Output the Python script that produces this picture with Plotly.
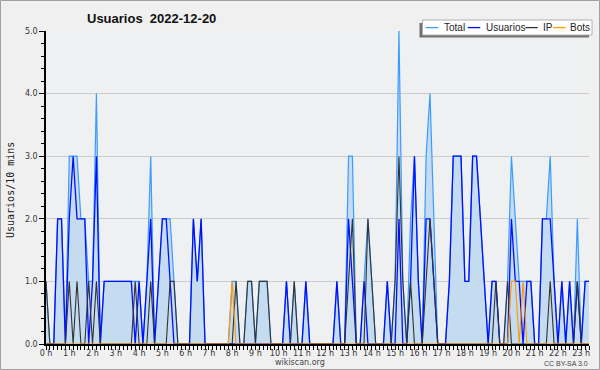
import plotly.graph_objects as go

# 10-minute slots from 00:00 to 23:20 (141 points)
total = [1,0,0,2,2,0,3,3,3,2,2,1,1,4,0,1,1,1,1,1,1,1,1,1,1,0,1,3,0,1,
         2,2,2,1,0,0,0,0,2,1,2,0,0,0,0,0,0,0,1,1,0,0,1,1,0,1,1,1,0,0,
         0,0,1,0,1,0,0,1,0,0,0,0,0,0,0,1,0,0,3,3,0,0,1,2,1,0,0,0,1,0,
         1,5,1,0,2,3,1,0,3,4,2,0,0,0,1,3,3,3,1,1,3,3,2,1,0,1,1,0,0,1,
         3,2,1,1,1,1,0,0,2,2,3,1,0,1,0,1,0,2,0,1,1]
usuarios = [0,0,0,2,2,0,2,3,2,2,2,0,1,3,0,1,1,1,1,1,1,1,1,0,1,0,1,2,0,1,
            2,2,1,0,0,0,0,0,2,1,2,0,0,0,0,0,0,0,0,0,0,0,0,0,0,0,0,0,0,0,
            0,0,1,0,0,0,0,1,0,0,0,0,0,0,0,1,0,0,2,1,0,0,1,0,0,0,0,0,1,0,
            0,2,0,0,1,3,1,0,2,2,1,0,0,0,1,3,3,3,1,1,3,3,2,1,0,1,1,0,0,0,
            2,1,1,0,1,1,0,0,2,2,2,1,0,1,0,1,0,1,0,1,1]
ip = [1,0,0,0,0,0,1,0,1,0,0,1,0,1,0,0,0,0,0,0,0,0,0,1,0,0,0,1,0,0,
      0,0,1,1,0,0,0,0,0,0,0,0,0,0,0,0,0,0,0,1,0,0,1,1,0,1,1,1,0,0,
      0,0,0,0,1,0,0,0,0,0,0,0,0,0,0,0,0,0,1,2,0,0,0,2,1,0,0,0,0,0,
      1,3,1,0,1,0,0,0,1,2,1,0,0,0,0,0,0,0,0,0,0,0,0,0,0,0,1,0,0,1,
      0,0,0,0,0,0,0,0,0,0,1,0,0,0,0,0,0,1,0,0,0]
bots = [0]*48 + [1] + [0]*71 + [1,1,0,1] + [0]*17

hours = [i / 6 for i in range(len(total))]
hour_ticks = list(range(24))
hour_labels = [f"{h} h" for h in hour_ticks]
y_ticks = [0, 1, 2, 3, 4, 5]
y_labels = ["0.0", "1.0", "2.0", "3.0", "4.0", "5.0"]

ML, MR, MT, MB = 46, 11, 31, 26
W, H = 600, 370
PW, PH = W - ML - MR, H - MT - MB

def xp(px):
    return (px - ML) / PW

def yp(py):
    return (H - MB - py) / PH

fig = go.Figure()
fig.add_trace(go.Scatter(x=hours, y=total, mode="lines", name="Total",
                         line=dict(color="#3a9cff", width=1.2),
                         fill="tozeroy", fillcolor="#c5dcf0"))
fig.add_trace(go.Scatter(x=hours, y=usuarios, mode="lines", name="Usuarios",
                         line=dict(color="#0010ff", width=1.3)))
fig.add_trace(go.Scatter(x=hours, y=ip, mode="lines", name="IP",
                         line=dict(color="#333333", width=1.1)))
fig.add_trace(go.Scatter(x=hours, y=bots, mode="lines", name="Bots",
                         line=dict(color="#ff9900", width=1.1)))

tickfont = dict(family="DejaVu Sans", size=8, color="#333333")
fig.update_layout(
    width=W, height=H,
    margin=dict(l=ML, r=MR, t=MT, b=MB, pad=0),
    paper_bgcolor="#f0f0f0",
    plot_bgcolor="#eff0f2",
    showlegend=False,
    xaxis=dict(range=[0, hours[-1]], tickvals=hour_ticks, ticktext=hour_labels,
               ticks="outside", ticklen=4, tickcolor="black", tickwidth=1,
               ticklabelstandoff=-3,
               showline=True, linecolor="black", linewidth=1.5,
               showgrid=False, zeroline=False, tickfont=tickfont,
               minor=dict(dtick=1/6, tick0=0, ticks="outside", ticklen=4,
                          tickcolor="black", tickwidth=1, showgrid=False)),
    yaxis=dict(range=[0, 5], tickvals=y_ticks, ticktext=y_labels,
               ticks="outside", ticklen=5, tickcolor="black", tickwidth=1,
               showline=True, linecolor="black", linewidth=1.5,
               showgrid=True, gridcolor="#cccccc", gridwidth=1,
               zeroline=False, tickfont=tickfont,
               minor=dict(dtick=0.2, tick0=0, ticks="outside", ticklen=3,
                          tickcolor="black", tickwidth=1, showgrid=False)),
)

shapes = []
annotations = []
# outer border
shapes.append(dict(type="rect", xref="paper", yref="paper",
                   x0=xp(0.5), x1=xp(599.5), y0=yp(369.5), y1=yp(0.5),
                   line=dict(color="#a0a0a0", width=1), fillcolor="rgba(0,0,0,0)",
                   layer="above"))
# legend shadow and box
shapes.append(dict(type="rect", xref="paper", yref="paper",
                   x0=xp(419.5), x1=xp(589), y0=yp(37.5), y1=yp(23),
                   line=dict(width=0), fillcolor="#707070", layer="above"))
shapes.append(dict(type="rect", xref="paper", yref="paper",
                   x0=xp(422.5), x1=xp(592), y0=yp(35), y1=yp(20),
                   line=dict(color="#b0b0b0", width=1), fillcolor="#ffffff",
                   layer="above"))
legend_items = [("Total", "#3a9cff", 425.6, 438.2, 442),
                ("Usuarios", "#0010ff", 467.7, 480.3, 484),
                ("IP", "#333333", 525.5, 537.7, 540.8),
                ("Bots", "#ff9900", 553, 565.6, 568)]
ly = 27.6
for name, col, a, b, tx in legend_items:
    shapes.append(dict(type="line", xref="paper", yref="paper",
                       x0=xp(a), x1=xp(b), y0=yp(ly), y1=yp(ly),
                       line=dict(color=col, width=1.3), layer="above"))
    annotations.append(dict(text=name, xref="paper", yref="paper",
                            x=xp(tx), y=yp(ly), xanchor="left", yanchor="middle",
                            showarrow=False,
                            font=dict(family="Liberation Sans", size=10, color="#222222")))

annotations.append(dict(text="<b>Usuarios\u00a0\u00a02022-12-20</b>", xref="paper", yref="paper",
                        x=xp(85), y=yp(18.4), xanchor="left", yanchor="middle",
                        showarrow=False,
                        font=dict(family="Liberation Sans", size=13, color="#111111")))
annotations.append(dict(text="Usuarios/10 mins", xref="paper", yref="paper",
                        x=xp(10), y=yp(190), xanchor="center", yanchor="middle",
                        textangle=-90, showarrow=False,
                        font=dict(family="DejaVu Sans Mono", size=10, color="#222222")))
annotations.append(dict(text="wikiscan.org", xref="paper", yref="paper",
                        x=xp(300), y=yp(362), xanchor="center", yanchor="middle",
                        showarrow=False,
                        font=dict(family="DejaVu Sans", size=8, color="#444444")))
annotations.append(dict(text="CC BY-SA 3.0", xref="paper", yref="paper",
                        x=xp(590), y=yp(363), xanchor="right", yanchor="middle",
                        showarrow=False,
                        font=dict(family="Liberation Sans", size=7, color="#444444")))

fig.update_layout(shapes=shapes, annotations=annotations)
fig.write_html("out.html")
